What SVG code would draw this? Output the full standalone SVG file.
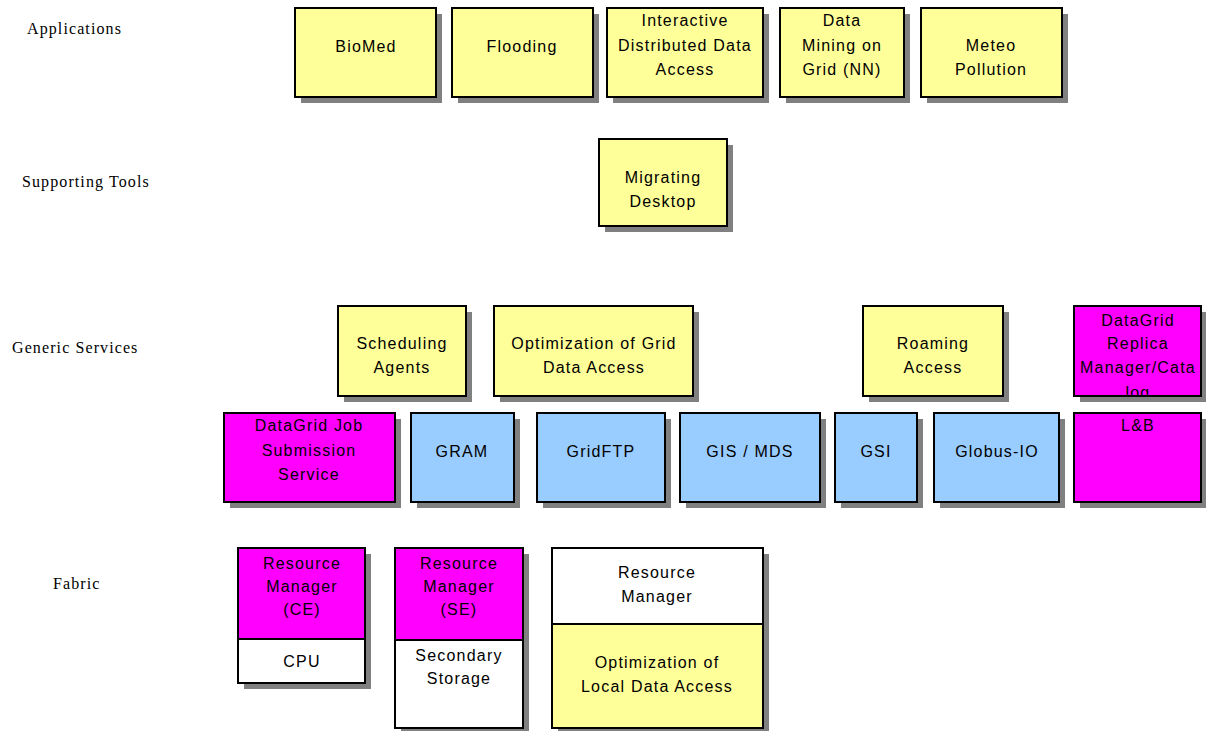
<svg xmlns="http://www.w3.org/2000/svg" width="1206" height="731" viewBox="0 0 1206 731">
<style>
.sh{fill:#808080;stroke:none}
.b{stroke:#000;stroke-width:2}
.y{fill:#FFFF99}.bl{fill:#99CCFF}.m{fill:#FF00FF}.w{fill:#FFFFFF}
.t{font-family:"Liberation Sans",Arial,sans-serif;font-size:16px;letter-spacing:1.2px;fill:#000;text-anchor:middle}
.lbl{font-family:"Liberation Serif","Times New Roman",serif;font-size:16px;letter-spacing:1.1px;fill:#000}
</style>
<defs>
<clipPath id="clipRep"><rect x="1074" y="306" width="127" height="90"/></clipPath>
</defs>
<rect width="1206" height="731" fill="#fff"/>
<g id="layer-labels">
<text class="lbl" x="27" y="34">Applications</text>
<text class="lbl" x="22" y="187">Supporting Tools</text>
<text class="lbl" x="12" y="353">Generic Services</text>
<text class="lbl" x="53" y="589">Fabric</text>
</g>
<g id="connectors"></g>
<g id="biomed">
<rect class="sh" x="301" y="14" width="141" height="89"/>
<rect class="b y" x="295" y="8" width="141" height="89"/>
<text class="t" x="366" y="52">BioMed</text>
</g>
<g id="flooding">
<rect class="sh" x="458" y="14" width="141" height="89"/>
<rect class="b y" x="452" y="8" width="141" height="89"/>
<text class="t" x="522" y="52">Flooding</text>
</g>
<g id="interactive">
<rect class="sh" x="613" y="14" width="156" height="89"/>
<rect class="b y" x="607" y="8" width="156" height="89"/>
<text class="t" x="685" y="26">Interactive</text>
<text class="t" x="685" y="51">Distributed Data</text>
<text class="t" x="685" y="75">Access</text>
</g>
<g id="datamining">
<rect class="sh" x="786" y="14" width="124" height="89"/>
<rect class="b y" x="780" y="8" width="124" height="89"/>
<text class="t" x="842" y="26">Data</text>
<text class="t" x="842" y="51">Mining on</text>
<text class="t" x="842" y="75">Grid (NN)</text>
</g>
<g id="meteo">
<rect class="sh" x="927" y="14" width="141" height="89"/>
<rect class="b y" x="921" y="8" width="141" height="89"/>
<text class="t" x="991" y="51">Meteo</text>
<text class="t" x="991" y="75">Pollution</text>
</g>
<g id="migrating">
<rect class="sh" x="605" y="145" width="128" height="87"/>
<rect class="b y" x="599" y="139" width="128" height="87"/>
<text class="t" x="663" y="183">Migrating</text>
<text class="t" x="663" y="207">Desktop</text>
</g>
<g id="scheduling">
<rect class="sh" x="344" y="312" width="128" height="90"/>
<rect class="b y" x="338" y="306" width="128" height="90"/>
<text class="t" x="402" y="349">Scheduling</text>
<text class="t" x="402" y="373">Agents</text>
</g>
<g id="optgrid">
<rect class="sh" x="500" y="312" width="199" height="90"/>
<rect class="b y" x="494" y="306" width="199" height="90"/>
<text class="t" x="594" y="349">Optimization of Grid</text>
<text class="t" x="594" y="373">Data Access</text>
</g>
<g id="roaming">
<rect class="sh" x="869" y="312" width="140" height="90"/>
<rect class="b y" x="863" y="306" width="140" height="90"/>
<text class="t" x="933" y="349">Roaming</text>
<text class="t" x="933" y="373">Access</text>
</g>
<g id="replica">
<rect class="sh" x="1080" y="312" width="127" height="90"/>
<rect class="b m" x="1074" y="306" width="127" height="90"/>
<g clip-path="url(#clipRep)">
<text class="t" x="1138" y="326">DataGrid</text>
<text class="t" x="1138" y="349">Replica</text>
<text class="t" x="1138" y="373">Manager/Cata</text>
<text class="t" x="1138" y="398">log</text>
</g>
<rect x="1074" y="306" width="127" height="90" fill="none" stroke="#000" stroke-width="2"/>
</g>
<g id="jobsub">
<rect class="sh" x="230" y="419" width="171" height="89"/>
<rect class="b m" x="224" y="413" width="171" height="89"/>
<text class="t" x="309" y="431">DataGrid Job</text>
<text class="t" x="309" y="456">Submission</text>
<text class="t" x="309" y="480">Service</text>
</g>
<g id="gram">
<rect class="sh" x="417" y="419" width="103" height="89"/>
<rect class="b bl" x="411" y="413" width="103" height="89"/>
<text class="t" x="462" y="457">GRAM</text>
</g>
<g id="gridftp">
<rect class="sh" x="543" y="419" width="128" height="89"/>
<rect class="b bl" x="537" y="413" width="128" height="89"/>
<text class="t" x="601" y="457">GridFTP</text>
</g>
<g id="gis">
<rect class="sh" x="686" y="419" width="140" height="89"/>
<rect class="b bl" x="680" y="413" width="140" height="89"/>
<text class="t" x="750" y="457">GIS / MDS</text>
</g>
<g id="gsi">
<rect class="sh" x="841" y="419" width="82" height="89"/>
<rect class="b bl" x="835" y="413" width="82" height="89"/>
<text class="t" x="876" y="457">GSI</text>
</g>
<g id="globusio">
<rect class="sh" x="940" y="419" width="125" height="89"/>
<rect class="b bl" x="934" y="413" width="125" height="89"/>
<text class="t" x="997" y="457">Globus-IO</text>
</g>
<g id="lb">
<rect class="sh" x="1080" y="419" width="127" height="89"/>
<rect class="b m" x="1074" y="413" width="127" height="89"/>
<text class="t" x="1138" y="431">L&amp;B</text>
</g>
<g id="rm-ce">
<rect class="sh" x="244" y="554" width="127" height="135"/>
<rect class="b m" x="238" y="548" width="127" height="91"/>
<rect class="b w" x="238" y="639" width="127" height="44"/>
<text class="t" x="302" y="569">Resource</text>
<text class="t" x="302" y="592">Manager</text>
<text class="t" x="302" y="615">(CE)</text>
<text class="t" x="302" y="667">CPU</text>
</g>
<g id="rm-se">
<rect class="sh" x="401" y="554" width="128" height="180"/>
<rect class="b m" x="395" y="548" width="128" height="92"/>
<rect class="b w" x="395" y="640" width="128" height="88"/>
<text class="t" x="459" y="569">Resource</text>
<text class="t" x="459" y="592">Manager</text>
<text class="t" x="459" y="615">(SE)</text>
<text class="t" x="459" y="661">Secondary</text>
<text class="t" x="459" y="684">Storage</text>
</g>
<g id="rm-local">
<rect class="sh" x="558" y="554" width="211" height="180"/>
<rect class="b w" x="552" y="548" width="211" height="76"/>
<rect class="b y" x="552" y="624" width="211" height="104"/>
<text class="t" x="657" y="578">Resource</text>
<text class="t" x="657" y="602">Manager</text>
<text class="t" x="657" y="668">Optimization of</text>
<text class="t" x="657" y="692">Local Data Access</text>
</g>
</svg>
